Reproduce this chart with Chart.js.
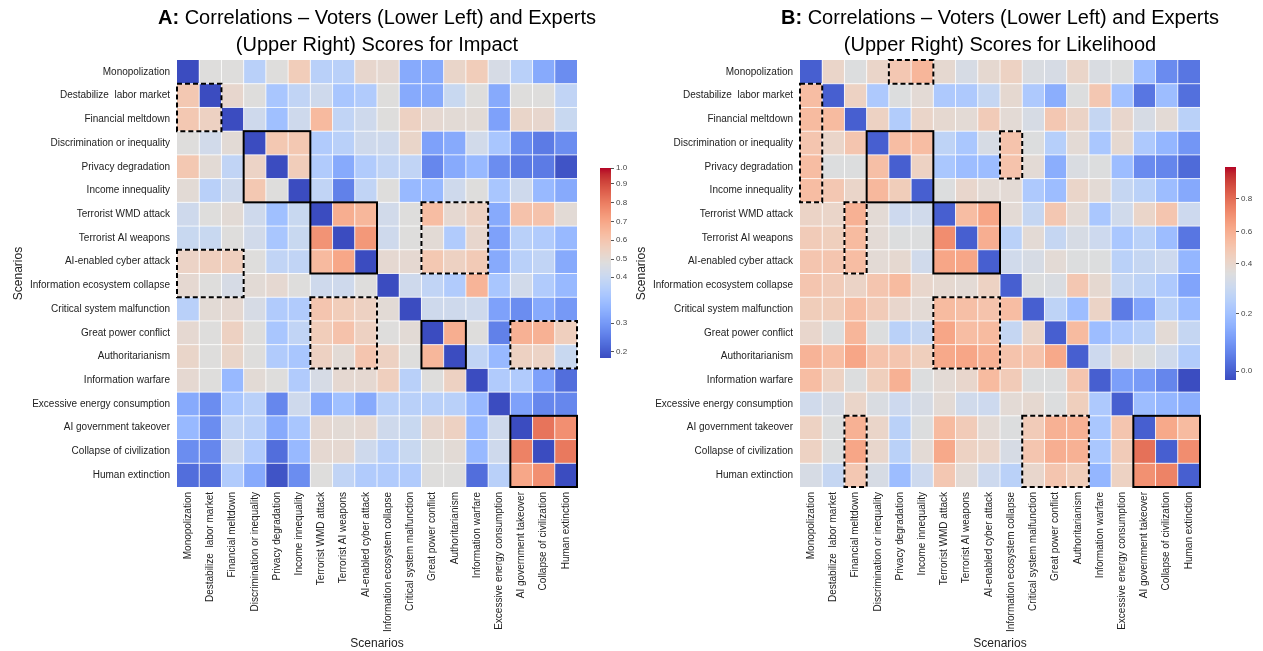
<!DOCTYPE html>
<html>
<head>
<meta charset="utf-8">
<script src="https://cdn.jsdelivr.net/npm/chart.js@4.4.1/dist/chart.umd.min.js"></script>
<style>
  body { margin: 0; background: #fff; width: 1263px; height: 651px; position: relative; overflow: hidden; }
  canvas { position: absolute; }
</style>
</head>
<body>
<canvas id="heatA" width="620" height="651" style="left:0;top:0"></canvas>
<canvas id="heatB" width="620" height="651" style="left:623px;top:0"></canvas>
<canvas id="barA" width="50" height="210" style="left:598px;top:160px"></canvas>
<canvas id="barB" width="40" height="231" style="left:1223px;top:159px"></canvas>
<script>
// scenario names (rows top->bottom, columns left->right)
const scenarios = [
  "Monopolization", "Destabilize  labor market", "Financial meltdown",
  "Discrimination or inequality", "Privacy degradation", "Income innequality",
  "Terrorist WMD attack", "Terrorist AI weapons", "AI-enabled cyber attack",
  "Information ecosystem collapse", "Critical system malfunction", "Great power conflict",
  "Authoritarianism", "Information warfare", "Excessive energy consumption",
  "AI government takeover", "Collapse of civilization", "Human extinction"
];

// A: impact correlations (lower left = voters, upper right = experts), diagonal shown as 0
const impactCorr = [
  [0, 0.48, 0.48, 0.38, 0.48, 0.57, 0.38, 0.38, 0.52, 0.51, 0.32, 0.32, 0.53, 0.57, 0.45, 0.38, 0.32, 0.28],
  [0.59, 0, 0.52, 0.48, 0.36, 0.39, 0.42, 0.36, 0.37, 0.48, 0.32, 0.32, 0.40, 0.48, 0.32, 0.48, 0.48, 0.39],
  [0.59, 0.55, 0, 0.42, 0.35, 0.42, 0.64, 0.39, 0.42, 0.48, 0.55, 0.51, 0.50, 0.50, 0.31, 0.53, 0.52, 0.40],
  [0.48, 0.43, 0.50, 0, 0.59, 0.59, 0.37, 0.38, 0.42, 0.42, 0.53, 0.31, 0.32, 0.43, 0.36, 0.28, 0.25, 0.28],
  [0.59, 0.50, 0.39, 0.54, 0, 0.57, 0.37, 0.32, 0.37, 0.39, 0.39, 0.27, 0.32, 0.34, 0.28, 0.25, 0.25, 0.19],
  [0.50, 0.38, 0.42, 0.59, 0.48, 0, 0.39, 0.26, 0.39, 0.48, 0.34, 0.34, 0.42, 0.48, 0.36, 0.42, 0.34, 0.32],
  [0.42, 0.48, 0.50, 0.42, 0.35, 0.40, 0, 0.68, 0.65, 0.43, 0.48, 0.63, 0.51, 0.55, 0.32, 0.61, 0.61, 0.50],
  [0.40, 0.40, 0.48, 0.43, 0.36, 0.40, 0.75, 0, 0.74, 0.42, 0.48, 0.50, 0.37, 0.52, 0.31, 0.38, 0.37, 0.34],
  [0.54, 0.56, 0.56, 0.48, 0.39, 0.39, 0.64, 0.70, 0, 0.51, 0.51, 0.59, 0.55, 0.58, 0.32, 0.38, 0.39, 0.32],
  [0.51, 0.48, 0.45, 0.50, 0.51, 0.48, 0.42, 0.42, 0.48, 0, 0.42, 0.39, 0.37, 0.66, 0.36, 0.43, 0.37, 0.34],
  [0.38, 0.50, 0.51, 0.45, 0.37, 0.37, 0.60, 0.57, 0.55, 0.50, 0, 0.42, 0.42, 0.42, 0.31, 0.28, 0.32, 0.30],
  [0.51, 0.48, 0.55, 0.48, 0.36, 0.39, 0.57, 0.61, 0.55, 0.48, 0.50, 0, 0.68, 0.48, 0.26, 0.67, 0.67, 0.56],
  [0.53, 0.48, 0.53, 0.48, 0.37, 0.36, 0.55, 0.50, 0.60, 0.55, 0.48, 0.65, 0, 0.39, 0.34, 0.55, 0.54, 0.40],
  [0.51, 0.48, 0.34, 0.50, 0.48, 0.37, 0.45, 0.51, 0.51, 0.56, 0.38, 0.48, 0.55, 0, 0.37, 0.37, 0.31, 0.23],
  [0.32, 0.28, 0.36, 0.38, 0.27, 0.42, 0.32, 0.35, 0.32, 0.38, 0.38, 0.38, 0.38, 0.34, 0, 0.31, 0.27, 0.27],
  [0.34, 0.28, 0.39, 0.38, 0.32, 0.36, 0.51, 0.50, 0.51, 0.42, 0.40, 0.52, 0.55, 0.34, 0.42, 0, 0.82, 0.76],
  [0.28, 0.27, 0.42, 0.37, 0.23, 0.34, 0.51, 0.51, 0.42, 0.38, 0.40, 0.48, 0.50, 0.34, 0.42, 0.79, 0, 0.81],
  [0.23, 0.23, 0.37, 0.32, 0.19, 0.28, 0.48, 0.39, 0.37, 0.37, 0.37, 0.48, 0.48, 0.23, 0.38, 0.70, 0.76, 0]
];

// B: likelihood correlations
const likelihoodCorr = [
  [0, 0.41, 0.36, 0.41, 0.49, 0.57, 0.39, 0.34, 0.39, 0.43, 0.35, 0.34, 0.41, 0.35, 0.36, 0.19, 0.08, 0.04],
  [0.54, 0, 0.43, 0.23, 0.36, 0.38, 0.23, 0.23, 0.29, 0.39, 0.23, 0.15, 0.36, 0.49, 0.20, 0.04, 0.19, 0.03],
  [0.55, 0.55, 0, 0.43, 0.24, 0.41, 0.39, 0.38, 0.47, 0.38, 0.34, 0.49, 0.42, 0.29, 0.40, 0.34, 0.38, 0.26],
  [0.50, 0.41, 0.50, 0, 0.54, 0.54, 0.27, 0.22, 0.34, 0.51, 0.36, 0.25, 0.38, 0.22, 0.39, 0.23, 0.17, 0.10],
  [0.54, 0.36, 0.36, 0.53, 0, 0.43, 0.22, 0.19, 0.19, 0.51, 0.38, 0.15, 0.35, 0.36, 0.19, 0.08, 0.07, 0.02],
  [0.54, 0.49, 0.41, 0.56, 0.46, 0, 0.36, 0.40, 0.38, 0.38, 0.23, 0.19, 0.41, 0.38, 0.29, 0.26, 0.19, 0.14],
  [0.42, 0.41, 0.59, 0.38, 0.31, 0.32, 0, 0.54, 0.63, 0.38, 0.29, 0.49, 0.38, 0.22, 0.32, 0.41, 0.50, 0.31],
  [0.47, 0.45, 0.55, 0.38, 0.36, 0.36, 0.71, 0, 0.60, 0.26, 0.38, 0.29, 0.34, 0.31, 0.22, 0.26, 0.19, 0.04],
  [0.50, 0.50, 0.54, 0.38, 0.39, 0.32, 0.63, 0.63, 0, 0.32, 0.34, 0.38, 0.36, 0.36, 0.26, 0.29, 0.31, 0.17],
  [0.50, 0.47, 0.42, 0.50, 0.55, 0.40, 0.39, 0.38, 0.43, 0, 0.36, 0.35, 0.49, 0.39, 0.29, 0.27, 0.23, 0.13],
  [0.46, 0.46, 0.54, 0.47, 0.40, 0.38, 0.55, 0.53, 0.51, 0.54, 0, 0.27, 0.19, 0.42, 0.05, 0.13, 0.26, 0.19],
  [0.40, 0.36, 0.57, 0.36, 0.26, 0.29, 0.63, 0.54, 0.55, 0.29, 0.41, 0, 0.55, 0.19, 0.23, 0.26, 0.38, 0.29],
  [0.58, 0.54, 0.63, 0.51, 0.50, 0.45, 0.62, 0.63, 0.59, 0.51, 0.51, 0.62, 0, 0.31, 0.38, 0.36, 0.32, 0.24],
  [0.54, 0.43, 0.36, 0.45, 0.59, 0.36, 0.38, 0.40, 0.55, 0.47, 0.36, 0.36, 0.50, 0, 0.12, 0.11, 0.07, -0.03],
  [0.32, 0.34, 0.41, 0.35, 0.31, 0.34, 0.38, 0.32, 0.31, 0.38, 0.39, 0.36, 0.45, 0.23, 0, 0.19, 0.17, 0.15],
  [0.43, 0.36, 0.59, 0.41, 0.26, 0.36, 0.55, 0.47, 0.38, 0.36, 0.47, 0.59, 0.59, 0.22, 0.50, 0, 0.62, 0.55],
  [0.43, 0.36, 0.63, 0.40, 0.26, 0.38, 0.62, 0.43, 0.41, 0.34, 0.50, 0.60, 0.59, 0.22, 0.47, 0.79, 0, 0.71],
  [0.34, 0.29, 0.49, 0.34, 0.19, 0.31, 0.49, 0.38, 0.31, 0.26, 0.40, 0.50, 0.46, 0.17, 0.43, 0.70, 0.74, 0]
];

// colorbar tick labels
const impactTicks = [0.2, 0.3, 0.4, 0.5, 0.6, 0.7, 0.8, 0.9, 1.0];
const likelihoodTicks = [0.0, 0.2, 0.4, 0.6, 0.8];

// highlighted blocks: [firstRow, firstCol, lastRow, lastCol]
const impactSolid = [[3, 3, 5, 5], [6, 6, 8, 8], [11, 11, 12, 12], [15, 15, 17, 17]];
const impactDashed = [[1, 0, 2, 1], [8, 0, 9, 2], [6, 11, 8, 13], [10, 6, 12, 8], [11, 15, 12, 17]];
const likelihoodSolid = [[3, 3, 5, 5], [6, 6, 8, 8], [15, 15, 17, 17]];
const likelihoodDashed = [[0, 4, 0, 5], [1, 0, 5, 0], [6, 2, 8, 2], [3, 9, 4, 9], [10, 6, 12, 8], [15, 2, 17, 2], [15, 10, 17, 12]];

// coolwarm colormap
const coolwarm = [
  [59,76,192],[68,90,204],[77,104,215],[87,117,225],[98,130,234],[108,142,241],[119,154,247],[130,165,251],
  [141,176,254],[152,185,255],[163,194,255],[174,201,253],[184,208,249],[194,213,244],[204,217,238],[213,219,230],
  [221,221,221],[229,216,209],[236,211,197],[241,204,185],[245,196,173],[247,187,160],[247,177,148],[247,166,135],
  [244,154,123],[241,141,111],[236,127,99],[229,112,88],[222,96,77],[213,80,66],[203,62,56],[192,40,47],[180,4,38]
];
function cmap(t) {
  t = Math.max(0, Math.min(1, t));
  const f = t * 32, i = Math.min(31, Math.floor(f)), u = f - i;
  const a = coolwarm[i], b = coolwarm[i + 1];
  return 'rgb(' + [0, 1, 2].map(k => Math.round(a[k] + (b[k] - a[k]) * u)).join(',') + ')';
}
// piecewise colour normalisation, follows the colorbar tick spacing
function makeNorm(vs, ts) {
  return v => {
    if (v <= vs[0]) return 0;
    for (let k = 1; k < vs.length; k++) {
      if (v <= vs[k]) return ts[k - 1] + (v - vs[k - 1]) / (vs[k] - vs[k - 1]) * (ts[k] - ts[k - 1]);
    }
    return 1;
  };
}
const normA = makeNorm([0.179, 0.2, 0.3, 0.4, 0.5, 0.6, 0.7, 0.8, 0.9, 1.0],
                       [0, 0.032, 0.184, 0.426, 0.521, 0.621, 0.716, 0.816, 0.916, 1.0]);
const normB = makeNorm([-0.031, 0, 0.2, 0.4, 0.6, 0.8, 0.994],
                       [0, 0.042, 0.310, 0.545, 0.695, 0.850, 1.0]);

const FONT = "'Liberation Sans', Arial, sans-serif";

const heatPlugin = {
  id: 'heat',
  beforeDatasetsDraw(chart, args, o) {
    const { ctx, scales: { x, y } } = chart;
    const n = o.matrix.length;
    const cw = x.getPixelForValue(1) - x.getPixelForValue(0);
    const ch = y.getPixelForValue(1) - y.getPixelForValue(0);
    const left = j => x.getPixelForValue(j) - cw / 2;
    const top = i => y.getPixelForValue(i) - ch / 2;
    ctx.save();
    for (let i = 0; i < n; i++) {
      for (let j = 0; j < n; j++) {
        ctx.fillStyle = cmap(o.norm(o.matrix[i][j]));
        ctx.fillRect(left(j), top(i), cw, ch);
      }
    }
    ctx.strokeStyle = '#fff';
    ctx.lineWidth = 0.8;
    ctx.beginPath();
    for (let k = 1; k < n; k++) {
      ctx.moveTo(left(k), top(0)); ctx.lineTo(left(k), top(n - 1) + ch);
      ctx.moveTo(left(0), top(k)); ctx.lineTo(left(n - 1) + cw, top(k));
    }
    ctx.stroke();
    ctx.strokeStyle = '#000';
    ctx.lineWidth = 2;
    const box = (b) => ctx.strokeRect(left(b[1]), top(b[0]), (b[3] - b[1] + 1) * cw, (b[2] - b[0] + 1) * ch);
    ctx.setLineDash([5, 3]);
    o.dashed.forEach(box);
    ctx.setLineDash([]);
    o.solid.forEach(box);
    ctx.restore();
  }
};

const titlePlugin = {
  id: 'panelTitle',
  afterDraw(chart, args, o) {
    const { ctx, chartArea: a } = chart;
    const cx = (a.left + a.right) / 2;
    const bold = 'bold 20px ' + FONT, reg = '20px ' + FONT;
    ctx.save();
    ctx.fillStyle = '#000';
    ctx.textBaseline = 'middle';
    ctx.font = bold;
    const w1 = ctx.measureText(o.tag).width;
    ctx.font = reg;
    const w2 = ctx.measureText(o.line1).width;
    const x0 = cx - (w1 + w2) / 2;
    ctx.textAlign = 'left';
    ctx.font = bold;
    ctx.fillText(o.tag, x0, 18);
    ctx.font = reg;
    ctx.fillText(o.line1, x0 + w1, 18);
    ctx.textAlign = 'center';
    ctx.fillText(o.line2, cx, 45);
    ctx.restore();
  }
};

const barPlugin = {
  id: 'gradientBar',
  beforeDraw(chart) {
    const { ctx, chartArea: a, scales: { y } } = chart;
    ctx.save();
    for (let py = a.top; py < a.bottom; py++) {
      ctx.fillStyle = cmap(y.getValueForPixel(py + 0.5));
      ctx.fillRect(a.left, py, a.right - a.left, 1);
    }
    ctx.restore();
  }
};

function heatChart(id, matrix, norm, solid, dashed, tag, line1, line2) {
  return new Chart(document.getElementById(id), {
    type: 'bar',
    data: { labels: scenarios, datasets: [] },
    options: {
      responsive: false,
      animation: false,
      layout: { padding: { top: 60, left: 0, right: 43, bottom: 0 } },
      plugins: {
        legend: { display: false },
        tooltip: { enabled: false },
        heat: { matrix, norm, solid, dashed },
        panelTitle: { tag, line1, line2 }
      },
      scales: {
        x: {
          type: 'category',
          offset: true,
          grid: { display: false, drawTicks: false },
          border: { display: false },
          ticks: { autoSkip: false, minRotation: 90, maxRotation: 90, padding: 5, color: '#222', font: { family: FONT, size: 10 } },
          title: { display: true, text: 'Scenarios', color: '#222', font: { family: FONT, size: 12 }, padding: { top: 4, bottom: 0 } },
          afterFit: s => { s.height = 164; }
        },
        y: {
          type: 'category',
          labels: scenarios,
          offset: true,
          grid: { display: false, drawTicks: false },
          border: { display: false },
          ticks: { autoSkip: false, padding: 7, color: '#222', font: { family: FONT, size: 10 } },
          title: { display: true, text: 'Scenarios', color: '#222', font: { family: FONT, size: 12 }, padding: { top: 11, bottom: 4 } },
          afterFit: s => { s.width = 177; }
        }
      }
    },
    plugins: [heatPlugin, titlePlugin]
  });
}

function colorBar(id, ticks, norm, pad, axisWidth) {
  return new Chart(document.getElementById(id), {
    type: 'bar',
    data: { labels: [''], datasets: [] },
    options: {
      responsive: false,
      animation: false,
      layout: { padding: pad },
      plugins: { legend: { display: false }, tooltip: { enabled: false } },
      scales: {
        x: { display: false },
        y: {
          type: 'linear',
          position: 'right',
          min: 0,
          max: 1,
          grid: { drawOnChartArea: false, drawTicks: true, tickLength: 3, color: '#555' },
          border: { display: false },
          ticks: { padding: 2, color: '#444', font: { family: FONT, size: 8 }, callback: (v, i) => ticks[i].toFixed(1) },
          afterBuildTicks: s => { s.ticks = ticks.map(v => ({ value: norm(v) })); },
          afterFit: s => { s.width = axisWidth; }
        }
      }
    },
    plugins: [barPlugin]
  });
}

heatChart('heatA', impactCorr, normA, impactSolid, impactDashed,
  'A:', ' Correlations \u2013 Voters (Lower Left) and Experts', '(Upper Right) Scores for Impact');
heatChart('heatB', likelihoodCorr, normB, likelihoodSolid, likelihoodDashed,
  'B:', ' Correlations \u2013 Voters (Lower Left) and Experts', '(Upper Right) Scores for Likelihood');
colorBar('barA', impactTicks, normA, { left: 2, top: 8, bottom: 12, right: 0 }, 37);
colorBar('barB', likelihoodTicks, normB, { left: 2, top: 8, bottom: 10, right: 0 }, 27);
</script>
</body>
</html>
